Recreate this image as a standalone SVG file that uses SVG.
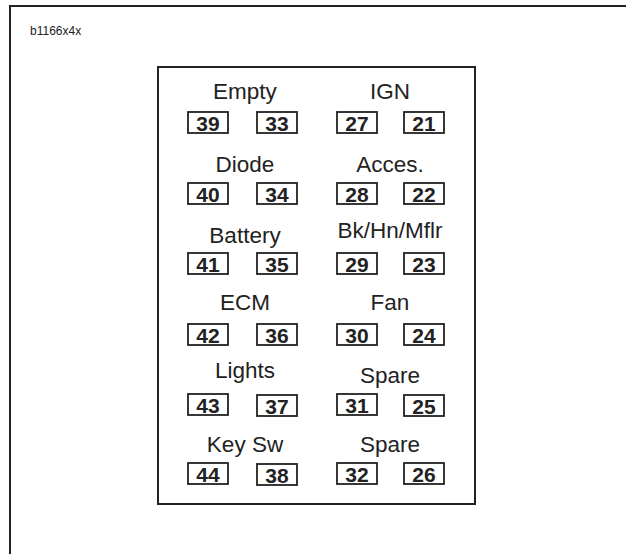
<svg xmlns="http://www.w3.org/2000/svg" width="626" height="554" viewBox="0 0 626 554">
<style>
.frame{fill:none;stroke:#222;stroke-width:2}
.box{fill:#fff;stroke:#222;stroke-width:1.8}
.lbl{font-family:"Liberation Sans",Arial,sans-serif;font-size:22.5px;fill:#222;text-anchor:middle}
.num{font-family:"Liberation Sans",Arial,sans-serif;font-size:21px;font-weight:bold;fill:#222;text-anchor:middle}
.cap{font-family:"Liberation Sans",Arial,sans-serif;font-size:12px;fill:#222}
</style>
<rect x="0" y="0" width="626" height="554" fill="#fff"/>
<path class="frame" d="M10,554 V6 H626"/>
<text class="cap" x="30" y="35">b1166x4x</text>
<rect class="frame" x="158" y="67" width="317" height="437"/>
<g id="r1">
<text class="lbl" x="245" y="99">Empty</text>
<text class="lbl" x="390" y="99">IGN</text>
<rect class="box" x="188" y="112" width="40" height="21"/><text class="num" x="208" y="130.5">39</text>
<rect class="box" x="257" y="112" width="40" height="21"/><text class="num" x="277" y="130.5">33</text>
<rect class="box" x="337" y="112" width="40" height="21"/><text class="num" x="357" y="130.5">27</text>
<rect class="box" x="404" y="112" width="40" height="21"/><text class="num" x="424" y="130.5">21</text>
</g>
<g id="r2">
<text class="lbl" x="245" y="172">Diode</text>
<text class="lbl" x="390" y="172">Acces.</text>
<rect class="box" x="188" y="183" width="40" height="21"/><text class="num" x="208" y="201.5">40</text>
<rect class="box" x="257" y="183" width="40" height="21"/><text class="num" x="277" y="201.5">34</text>
<rect class="box" x="337" y="183" width="40" height="21"/><text class="num" x="357" y="201.5">28</text>
<rect class="box" x="404" y="183" width="40" height="21"/><text class="num" x="424" y="201.5">22</text>
</g>
<g id="r3">
<text class="lbl" x="245" y="243">Battery</text>
<text class="lbl" x="390" y="238">Bk/Hn/Mflr</text>
<rect class="box" x="188" y="253" width="40" height="21"/><text class="num" x="208" y="271.5">41</text>
<rect class="box" x="257" y="253" width="40" height="21"/><text class="num" x="277" y="271.5">35</text>
<rect class="box" x="337" y="253" width="40" height="21"/><text class="num" x="357" y="271.5">29</text>
<rect class="box" x="404" y="253" width="40" height="21"/><text class="num" x="424" y="271.5">23</text>
</g>
<g id="r4">
<text class="lbl" x="245" y="310">ECM</text>
<text class="lbl" x="390" y="310">Fan</text>
<rect class="box" x="188" y="324" width="40" height="21"/><text class="num" x="208" y="342.5">42</text>
<rect class="box" x="257" y="324" width="40" height="21"/><text class="num" x="277" y="342.5">36</text>
<rect class="box" x="337" y="324" width="40" height="21"/><text class="num" x="357" y="342.5">30</text>
<rect class="box" x="404" y="324" width="40" height="21"/><text class="num" x="424" y="342.5">24</text>
</g>
<g id="r5">
<text class="lbl" x="245" y="378">Lights</text>
<text class="lbl" x="390" y="383">Spare</text>
<rect class="box" x="188" y="394" width="40" height="21"/><text class="num" x="208" y="412.5">43</text>
<rect class="box" x="257" y="395" width="40" height="21"/><text class="num" x="277" y="413.5">37</text>
<rect class="box" x="337" y="394" width="40" height="21"/><text class="num" x="357" y="412.5">31</text>
<rect class="box" x="404" y="395" width="40" height="21"/><text class="num" x="424" y="413.5">25</text>
</g>
<g id="r6">
<text class="lbl" x="245" y="452">Key Sw</text>
<text class="lbl" x="390" y="452">Spare</text>
<rect class="box" x="188" y="463" width="40" height="21"/><text class="num" x="208" y="481.5">44</text>
<rect class="box" x="257" y="464" width="40" height="21"/><text class="num" x="277" y="482.5">38</text>
<rect class="box" x="337" y="463" width="40" height="21"/><text class="num" x="357" y="481.5">32</text>
<rect class="box" x="404" y="463" width="40" height="21"/><text class="num" x="424" y="481.5">26</text>
</g>
</svg>
